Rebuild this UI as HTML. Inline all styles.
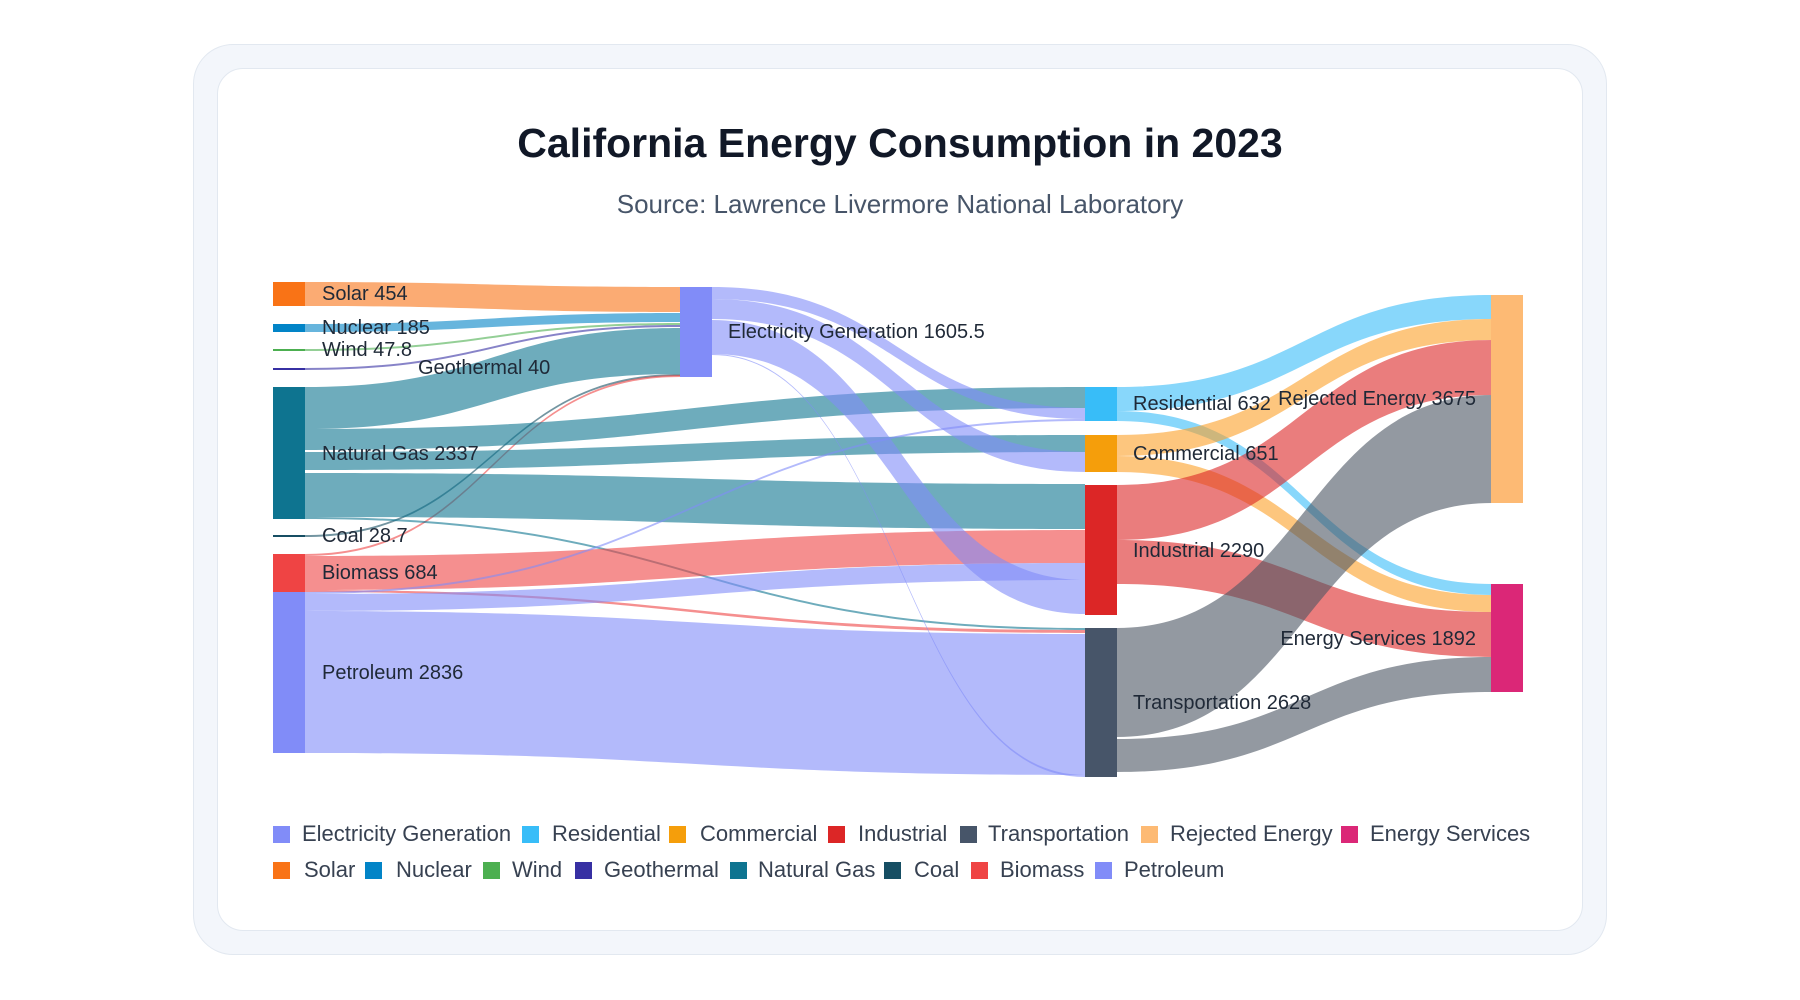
<!DOCTYPE html>
<html><head><meta charset="utf-8"><style>
body{margin:0;width:1800px;height:1000px;background:#fff;font-family:"Liberation Sans",sans-serif;overflow:hidden;position:relative}
.outer{position:absolute;left:193px;top:44px;width:1412px;height:909px;background:#f3f6fb;border:1px solid #e2e8f0;border-radius:40px}
.inner{position:absolute;left:217px;top:68px;width:1364px;height:861px;background:#fff;border:1px solid #e2e8f0;border-radius:26px}
.t{position:absolute;left:0;width:1800px;text-align:center}
.lg{position:absolute;font-size:22px;color:#374151;line-height:22px}
.sq{position:absolute;width:17px;height:17px}
svg{position:absolute;left:0;top:0}
</style></head><body>
<div class="outer"></div><div class="inner"></div>
<div class="t" style="top:120px;font-size:41px;font-weight:bold;color:#111827">California Energy Consumption in 2023</div>
<div class="t" style="top:189px;font-size:26px;color:#475569">Source: Lawrence Livermore National Laboratory</div>
<svg width="1800" height="1000" id="s"><g id="links"></g><g id="nodes"></g><g id="labels" font-family="Liberation Sans, sans-serif" font-size="20" fill="#1f2937"></g></svg>
<div id="leg"></div>
<script>
const L=document.getElementById('links'),N=document.getElementById('nodes'),T=document.getElementById('labels');
const ns='http://www.w3.org/2000/svg';
function link(x0,a0,b0,x1,a1,b1,c){const m=(x0+x1)/2;const p=document.createElementNS(ns,'path');
p.setAttribute('d',`M${x0},${a0}C${m},${a0} ${m},${a1} ${x1},${a1}L${x1},${b1}C${m},${b1} ${m},${b0} ${x0},${b0}Z`);p.setAttribute('fill',c);L.appendChild(p);}
const NG='rgba(14,116,144,0.6)',PU='rgba(129,140,248,0.6)',BI='rgba(239,68,68,0.6)';
link(305,282,306,680,287,312,'rgba(249,115,22,0.6)');
link(305,324,332,680,313,322,'rgba(2,132,199,0.6)');
link(305,349,351,680,323,325,'rgba(76,175,80,0.6)');
link(305,368,370,680,325,327,'rgba(55,48,163,0.6)');
link(305,387,429,680,328,374,NG);
link(305,535,537,680,374,376,'rgba(22,78,99,0.6)');
link(305,554,556,680,375,377,BI);
link(305,429,450,1085,387,408,NG);
link(305,452,470,1085,435,452,NG);
link(305,473,517,1085,484,529,NG);
link(305,517,519,1085,628,630,NG);
link(305,556,590,1085,530,563,BI);
link(305,590,592,1085,630,633,BI);
link(305,592,594,1085,419,421,PU);
link(305,594,611,1085,563,580,PU);
link(305,611,753,1085,634,775,PU);
link(712,287,299,1085,408,419,PU);
link(712,299,319,1085,452,472,PU);
link(712,320,354,1085,580,614,PU);
link(712,354,355,1085,775,777,PU);
const RE='rgba(56,189,248,0.6)',IN='rgba(220,38,38,0.6)',TR='rgba(75,85,99,0.6)';
link(1117,387,411,1492,295,319,RE);
link(1117,411,421,1492,584,595,RE);
link(1117,435,456,1492,319,340,'rgba(251,160,40,0.6)');
link(1117,456,472,1492,595,612,'rgba(251,160,40,0.6)');
link(1117,485,540,1492,340,395,IN);
link(1117,540,584,1492,612,657,IN);
link(1117,628,737,1492,395,503,TR);
link(1117,739,772,1492,657,692,TR);
function node(x,y0,y1,c){const r=document.createElementNS(ns,'rect');r.setAttribute('x',x);r.setAttribute('y',y0);r.setAttribute('width',32);r.setAttribute('height',Math.max(2,y1-y0));r.setAttribute('fill',c);N.appendChild(r);}
node(273,282,306,'#f97316');node(273,324,332,'#0284c7');node(273,349,351,'#4caf50');node(273,368,370,'#3730a3');
node(273,387,519,'#0e7490');node(273,535,537,'#164e63');node(273,554,592,'#ef4444');node(273,592,753,'#818cf8');
node(680,287,377,'#818cf8');
node(1085,387,421,'#38bdf8');node(1085,435,472,'#f59e0b');node(1085,485,615,'#dc2626');node(1085,628,777,'#475569');
node(1491,295,503,'#fdba74');node(1491,584,692,'#db2777');
function lab(x,y,s,a){const t=document.createElementNS(ns,'text');t.setAttribute('x',x);t.setAttribute('y',y+7);if(a)t.setAttribute('text-anchor','end');t.textContent=s;T.appendChild(t);}
lab(322,293,'Solar 454');lab(322,327,'Nuclear 185');lab(322,349,'Wind 47.8');lab(418,367,'Geothermal 40');
lab(322,453,'Natural Gas 2337');lab(322,535,'Coal 28.7');lab(322,572,'Biomass 684');lab(322,672,'Petroleum 2836');
lab(728,331,'Electricity Generation 1605.5');
lab(1133,403,'Residential 632');lab(1133,453,'Commercial 651');lab(1133,550,'Industrial 2290');lab(1133,702,'Transportation 2628');
lab(1476,398,'Rejected Energy 3675',1);lab(1476,638,'Energy Services 1892',1);
const leg=[[273,302,834,'#818cf8','Electricity Generation'],[522,552,834,'#38bdf8','Residential'],[669,700,834,'#f59e0b','Commercial'],[828,858,834,'#dc2626','Industrial'],[960,988,834,'#475569','Transportation'],[1141,1170,834,'#fdba74','Rejected Energy'],[1341,1370,834,'#db2777','Energy Services'],
[273,304,870,'#f97316','Solar'],[365,396,870,'#0284c7','Nuclear'],[483,512,870,'#4caf50','Wind'],[575,604,870,'#3730a3','Geothermal'],[730,758,870,'#0e7490','Natural Gas'],[884,914,870,'#164e63','Coal'],[971,1000,870,'#ef4444','Biomass'],[1095,1124,870,'#818cf8','Petroleum']];
let h='';for(const[a,b,y,c,s]of leg){h+=`<div class="sq" style="left:${a}px;top:${y-8}px;background:${c}"></div><div class="lg" style="left:${b}px;top:${y-11}px">${s}</div>`;}
document.getElementById('leg').innerHTML=h;
</script>
</body></html>
